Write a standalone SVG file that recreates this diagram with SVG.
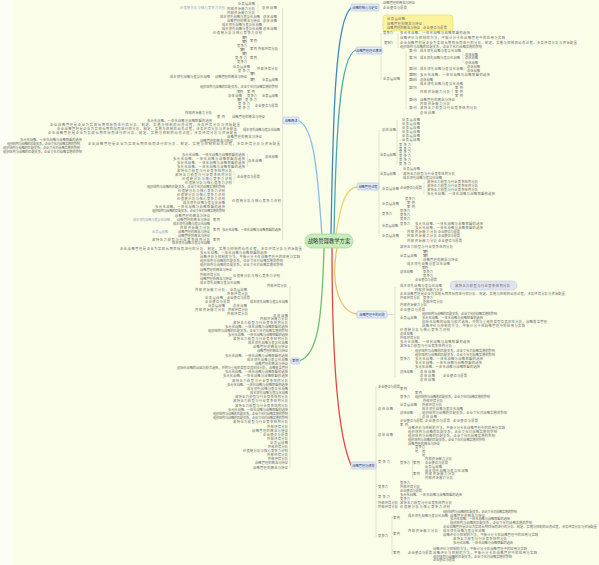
<svg xmlns="http://www.w3.org/2000/svg" width="599" height="565" viewBox="0 0 599 565">
<style>
.t{font-family:"Noto Sans CJK SC","Noto Sans",sans-serif;font-size:3.2px;fill:#6a6a6a}
.tb{fill:#96a6c4}
.br{fill:none;stroke:#c8cbb8;stroke-width:0.5}
.cv{fill:none;stroke-width:1.3;stroke-linecap:round}
.bn rect{fill:#e4ecfb;stroke:#9db2da;stroke-width:0.5}
.bn text{font-family:"Noto Sans CJK SC","Noto Sans",sans-serif;font-size:3.2px;fill:#2e3a5c;text-anchor:middle}
</style>
<rect width="599" height="565" fill="#fafde8"/>
<rect width="14" height="565" fill="#fcfdf3"/>
<g id="connectors">
<path class="cv" stroke="#3d86c6" d="M331,234 C333,120 335,20 351,8"/>
<path class="cv" stroke="#4aa8b0" d="M334,234 C336,130 340,55 356,50"/>
<path class="cv" stroke="#86bde4" d="M322,236 C318,180 315,128 299,121"/>
<path class="cv" stroke="#e8d86a" d="M336,234 C341,205 345,188 357,187"/>
<path class="cv" stroke="#e8c46a" d="M337,248 C330,285 340,312 357,314"/>
<path class="cv" stroke="#e04848" d="M332,248 C332,380 340,440 351,465"/>
<path class="cv" stroke="#6cc070" d="M324,248 C322,320 318,355 299,361"/>
<path class="br" d="M282.5,8V240M290,286V468M290,361H291M381,33V80M406,51V109M379,130V236M395,287V377M387,314.5H395M376,386V537M258,4V13M247.5,154V167M234,171V183M463,54V63M464,67V71M452.5,88V96M424,182V194M397,120V165M392,516V555M412.5,459V478M398,33.5V48M420,412V421"/>
</g>
<g id="center">
<rect x="305" y="234" width="48" height="14" rx="7" fill="#c6edbb" stroke="#96d38a" stroke-width="0.6"/>
<text x="329" y="243.2" text-anchor="middle" font-family="Noto Sans CJK SC, Noto Sans, sans-serif" font-size="5.3" fill="#333">战略管理教学方案</text>
</g>
<g id="n1" class="bn"><rect x="351" y="4" width="28" height="7" rx="1.5"/><text x="365" y="8.7">战略的核心与定位</text></g>
<g id="n2" class="bn"><rect x="356" y="47" width="26" height="7" rx="1.5"/><text x="369" y="51.7">战略管理理论演进</text></g>
<g id="n3" class="bn"><rect x="357" y="183" width="22" height="7" rx="1.5"/><text x="368" y="187.7">战略管理过程</text></g>
<g id="n4" class="bn"><rect x="357" y="311" width="30" height="7" rx="1.5"/><text x="372" y="315.7">战略管理中的问题</text></g>
<g id="n5" class="bn"><rect x="351" y="462" width="25" height="7" rx="1.5"/><text x="363.5" y="466.7">战略管理与绩效</text></g>
<g id="n6" class="bn"><rect x="283" y="117" width="16" height="7" rx="1.5"/><text x="291" y="121.7">战略概述</text></g>
<g id="n7" class="bn"><rect x="291" y="358" width="9" height="6" rx="1.5"/><text x="295.5" y="362.2">案例</text></g>
<g id="note-yellow">
<rect x="383" y="15" width="70" height="16" rx="3" fill="#fbf39c" stroke="#e6cf5a" stroke-width="0.5"/>
<g class="t"><text x="387" y="20.1" textLength="18">业务层战略</text><text x="387" y="24.6" textLength="35">战略管理的概念与特征</text><text x="387" y="28.6" textLength="33">战略管理的概念与特征</text><text x="423" y="28.6" textLength="24">企业使命与愿景</text></g>
</g>
<g id="note-grey">
<rect x="450" y="281" width="67" height="9" rx="4.5" fill="#dfe4ee" stroke="#b9c3d6" stroke-width="0.5"/>
<text class="t" x="455" y="286.6" textLength="55">波特五力模型与行业竞争结构分析</text>
</g>
<g id="topics-n6" class="t">
<text x="238" y="5.1" textLength="17">业务层战略</text>
<text class="tb" x="180" y="9.1" textLength="45">价值链分析与核心竞争力识别</text>
<text x="227" y="9.6" textLength="28">内部资源能力分析</text>
<text x="227" y="13.6" textLength="28">内部资源能力分析</text>
<text x="262" y="9.1" textLength="15">总体战略</text>
<text x="220" y="18.1" textLength="40">成本领先战略与差异化战略</text>
<text x="263" y="18.1" textLength="14">总体战略</text>
<text x="227" y="22.1" textLength="33">战略管理的概念与特征</text>
<text x="263" y="22.1" textLength="14">总体战略</text>
<text x="222" y="26.1" textLength="40">成本领先战略与差异化战略</text>
<text x="222" y="30.1" textLength="40">成本领先战略与差异化战略</text>
<text x="263" y="30.1" textLength="14">总体战略</text>
<text x="213" y="34.1" textLength="49">价值链分析与核心竞争力识别</text>
<text x="242" y="39.1" textLength="5">案例</text>
<text x="250" y="42.1" textLength="7">案例</text>
<text x="242" y="43.1" textLength="5">案例</text>
<text x="237" y="47.1" textLength="10">竞争力</text>
<text x="250" y="50.1" textLength="7">案例</text>
<text x="258" y="50.1" textLength="20">外部环境分析</text>
<text x="240" y="51.1" textLength="5">案例</text>
<text x="242" y="55.1" textLength="5">案例</text>
<text x="235" y="59.1" textLength="12">竞争力</text>
<text x="250" y="59.1" textLength="7">案例</text>
<text x="237" y="63.1" textLength="10">竞争力</text>
<text x="233" y="68.1" textLength="17">业务层战略</text>
<text x="238" y="72.1" textLength="12">竞争力</text>
<text x="257" y="70.1" textLength="21">外部环境分析</text>
<text x="170" y="78.1" textLength="40">成本领先战略与差异化战略</text>
<text x="215" y="78.1" textLength="32">战略管理的概念与特征</text>
<text x="250" y="75.1" textLength="5">案例</text>
<text x="250" y="81.1" textLength="5">案例</text>
<text x="262" y="81.1" textLength="16">业务层战略</text>
<text x="200" y="88.1" textLength="78">组织结构与战略的匹配关系，企业文化对战略实施的影响</text>
<text x="237" y="93.1" textLength="6">案例</text>
<text x="247" y="93.1" textLength="8">案例</text>
<text x="228" y="97.1" textLength="14">总体战略</text>
<text x="247" y="97.1" textLength="10">竞争力</text>
<text x="237" y="101.1" textLength="5">案例</text>
<text x="245" y="101.1" textLength="12">竞争力</text>
<text x="262" y="97.1" textLength="16">业务层战略</text>
<text x="238" y="105.1" textLength="12">竞争力</text>
<text x="238" y="109.1" textLength="12">竞争力</text>
<text x="255" y="107.1" textLength="23">企业使命与愿景</text>
<text x="185" y="114.1" textLength="27">内部资源能力分析</text>
<text x="217" y="118.1" textLength="8">案例</text>
<text x="232" y="118.1" textLength="33">战略管理的概念与特征</text>
<text x="147" y="122.1" textLength="65">多元化战略、一体化战略与战略联盟的选择</text>
<text x="50" y="126.1" textLength="190">企业战略管理是企业为实现长期目标而进行的分析、制定、实施与控制的动态过程，涉及环境分析与资源配置</text>
<text x="57" y="130.1" textLength="180">企业战略管理是企业为实现长期目标而进行的分析、制定、实施与控制的动态过程，涉及环境分析与资源配置</text>
<text x="243" y="131.1" textLength="37">成本领先战略与差异化战略</text>
<text x="48" y="134.1" textLength="189">企业战略管理是企业为实现长期目标而进行的分析、制定、实施与控制的动态过程，涉及环境分析与资源配置</text>
<text x="227" y="138.1" textLength="35">战略管理的概念与特征</text>
<text x="20" y="140.6" textLength="62">多元化战略、一体化战略与战略联盟的选择</text>
<text x="200" y="141.6" textLength="33">战略管理的概念与特征</text>
<text x="7" y="144.6" textLength="73">组织结构与战略的匹配关系，企业文化对战略实施的影响</text>
<text x="88" y="145.4" textLength="192">企业战略管理是企业为实现长期目标而进行的分析、制定、实施与控制的动态过程，涉及环境分析与资源配置</text>
<text x="3" y="148.6" textLength="77">组织结构与战略的匹配关系，企业文化对战略实施的影响</text>
<text x="3" y="152.6" textLength="79">组织结构与战略的匹配关系，企业文化对战略实施的影响</text>
<text x="182" y="156.1" textLength="63">多元化战略、一体化战略与战略联盟的选择</text>
<text x="173" y="160.1" textLength="72">多元化战略、一体化战略与战略联盟的选择</text>
<text x="177" y="164.1" textLength="68">多元化战略、一体化战略与战略联盟的选择</text>
<text x="177" y="168.1" textLength="68">多元化战略、一体化战略与战略联盟的选择</text>
<text x="248" y="162.1" textLength="14">总体战略</text>
<text x="265" y="158.1" textLength="13">总体战略</text>
<text x="177" y="172.1" textLength="55">波特五力模型与行业竞争结构分析</text>
<text x="175" y="176.1" textLength="57">波特五力模型与行业竞争结构分析</text>
<text x="182" y="180.1" textLength="50">价值链分析与核心竞争力识别</text>
<text x="185" y="184.1" textLength="47">价值链分析与核心竞争力识别</text>
<text x="237" y="178.1" textLength="23">企业使命与愿景</text>
<text x="147" y="188.1" textLength="78">组织结构与战略的匹配关系，企业文化对战略实施的影响</text>
<text x="178" y="192.1" textLength="47">价值链分析与核心竞争力识别</text>
<text x="177" y="196.1" textLength="48">价值链分析与核心竞争力识别</text>
<text x="177" y="200.1" textLength="48">价值链分析与核心竞争力识别</text>
<text x="183" y="204.1" textLength="42">成本领先战略与差异化战略</text>
<text x="155" y="208.1" textLength="70">多元化战略、一体化战略与战略联盟的选择</text>
<text x="152" y="212.1" textLength="73">组织结构与战略的匹配关系，企业文化对战略实施的影响</text>
<text x="232" y="202.1" textLength="49">价值链分析与核心竞争力识别</text>
<text x="175" y="217.1" textLength="35">战略管理的概念与特征</text>
<text x="177" y="221.1" textLength="33">战略管理的概念与特征</text>
<text class="tb" x="133" y="221.1" textLength="37">成本领先战略与差异化战略</text>
<text x="173" y="225.1" textLength="37">成本领先战略与差异化战略</text>
<text x="180" y="229.1" textLength="30">内部资源能力分析</text>
<text x="178" y="232.9" textLength="32">战略管理的概念与特征</text>
<text class="tb" x="152" y="232.9" textLength="16">业务层战略</text>
<text x="178" y="236.7" textLength="32">战略管理的概念与特征</text>
<text x="152" y="240.5" textLength="58">波特五力模型与行业竞争结构分析</text>
<text x="172" y="244.3" textLength="38">成本领先战略与差异化战略</text>
<text x="213" y="221.1" textLength="7">案例</text>
<text x="213" y="231.1" textLength="7">案例</text>
<text x="213" y="241.1" textLength="7">案例</text>
<text x="222" y="231.1" textLength="59">多元化战略、一体化战略与战略联盟的选择</text>
<text x="120" y="250.1" textLength="182">企业战略管理是企业为实现长期目标而进行的分析、制定、实施与控制的动态过程，涉及环境分析与资源配置</text>
<text x="200" y="254.1" textLength="67">多元化战略、一体化战略与战略联盟的选择</text>
<text x="200" y="258.1" textLength="100">战略评价与控制的方法，平衡计分卡在战略管理中的应用与实践</text>
<text x="200" y="262.1" textLength="83">组织结构与战略的匹配关系，企业文化对战略实施的影响</text>
<text x="200" y="266.1" textLength="83">组织结构与战略的匹配关系，企业文化对战略实施的影响</text>
<text x="200" y="271.1" textLength="32">战略管理的概念与特征</text>
<text x="200" y="275.6" textLength="20">外部环境分析</text>
<text x="233" y="276.6" textLength="47">价值链分析与核心竞争力识别</text>
<text x="200" y="280.1" textLength="32">战略管理的概念与特征</text>
<text x="200" y="284.1" textLength="40">成本领先战略与差异化战略</text>
</g>
<g id="topics-n7" class="t">
<text x="267" y="287.1" textLength="20">外部环境分析</text>
<text x="195" y="291.1" textLength="30">内部资源能力分析</text>
<text x="230" y="291.1" textLength="17">业务层战略</text>
<text x="227" y="295.1" textLength="21">外部环境分析</text>
<text x="205" y="299.1" textLength="18">业务层战略</text>
<text x="227" y="299.1" textLength="23">企业使命与愿景</text>
<text x="205" y="303.1" textLength="25">企业使命与愿景</text>
<text x="250" y="303.1" textLength="38">成本领先战略与差异化战略</text>
<text x="208" y="307.1" textLength="17">业务层战略</text>
<text x="233" y="307.1" textLength="14">总体战略</text>
<text x="195" y="310.9" textLength="30">内部资源能力分析</text>
<text x="228" y="310.9" textLength="20">外部环境分析</text>
<text x="227" y="314.7" textLength="21">外部环境分析</text>
<text x="273" y="316.6" textLength="15">总体战略</text>
<text x="260" y="320.4" textLength="28">内部资源能力分析</text>
<text x="233" y="324.2" textLength="55">波特五力模型与行业竞争结构分析</text>
<text x="225" y="328.1" textLength="63">多元化战略、一体化战略与战略联盟的选择</text>
<text x="208" y="332.1" textLength="80">组织结构与战略的匹配关系，企业文化对战略实施的影响</text>
<text x="228" y="336.1" textLength="60">多元化战略、一体化战略与战略联盟的选择</text>
<text x="233" y="340.1" textLength="55">波特五力模型与行业竞争结构分析</text>
<text x="248" y="344.1" textLength="40">成本领先战略与差异化战略</text>
<text x="253" y="348.1" textLength="35">战略管理的概念与特征</text>
<text x="257" y="352.1" textLength="31">战略管理的概念与特征</text>
<text x="225" y="357.1" textLength="63">多元化战略、一体化战略与战略联盟的选择</text>
<text x="247" y="361.1" textLength="41">成本领先战略与差异化战略</text>
<text x="255" y="365.1" textLength="33">战略管理的概念与特征</text>
<text x="177" y="369.1" textLength="111">国际化战略的动因与模式选择，并购与重组的类型及其风险分析，战略变革管理</text>
<text x="225" y="373.1" textLength="63">多元化战略、一体化战略与战略联盟的选择</text>
<text x="223" y="377.1" textLength="65">多元化战略、一体化战略与战略联盟的选择</text>
<text x="232" y="382.1" textLength="56">波特五力模型与行业竞争结构分析</text>
<text x="227" y="386.1" textLength="61">多元化战略、一体化战略与战略联盟的选择</text>
<text x="247" y="390.1" textLength="41">成本领先战略与差异化战略</text>
<text x="250" y="394.1" textLength="38">成本领先战略与差异化战略</text>
<text x="235" y="398.1" textLength="53">波特五力模型与行业竞争结构分析</text>
<text x="233" y="402.1" textLength="55">波特五力模型与行业竞争结构分析</text>
<text x="235" y="407.1" textLength="53">波特五力模型与行业竞争结构分析</text>
<text x="228" y="411.1" textLength="60">多元化战略、一体化战略与战略联盟的选择</text>
<text x="213" y="415.1" textLength="75">组织结构与战略的匹配关系，企业文化对战略实施的影响</text>
<text x="213" y="419.1" textLength="75">组织结构与战略的匹配关系，企业文化对战略实施的影响</text>
<text x="233" y="423.1" textLength="55">波特五力模型与行业竞争结构分析</text>
<text x="267" y="428.1" textLength="21">外部环境分析</text>
<text x="252" y="432.1" textLength="36">战略管理的概念与特征</text>
<text x="263" y="436.1" textLength="25">企业使命与愿景</text>
<text x="267" y="440.1" textLength="21">外部环境分析</text>
<text x="270" y="444.1" textLength="18">业务层战略</text>
<text x="268" y="448.1" textLength="20">外部环境分析</text>
<text x="243" y="452.1" textLength="45">价值链分析与核心竞争力识别</text>
<text x="267" y="456.1" textLength="21">外部环境分析</text>
<text x="268" y="460.1" textLength="20">外部环境分析</text>
<text x="255" y="464.1" textLength="33">战略管理的概念与特征</text>
<text x="253" y="469.1" textLength="35">战略管理的概念与特征</text>
</g>
<g id="topics-n1" class="t">
<text x="383" y="4.3" textLength="32">战略管理的概念与特征</text>
<text x="383" y="8.6" textLength="24">企业使命与愿景</text>
</g>
<g id="topics-n2" class="t">
<text x="383" y="34.1" textLength="10">竞争力</text>
<text x="384" y="44.1" textLength="9">竞争力</text>
<text x="383" y="80.1" textLength="17">业务层战略</text>
<text x="400" y="34.1" textLength="70">多元化战略、一体化战略与战略联盟的选择</text>
<text x="400" y="39.1" textLength="105">战略评价与控制的方法，平衡计分卡在战略管理中的应用与实践</text>
<text x="400" y="44.1" textLength="177">企业战略管理是企业为实现长期目标而进行的分析、制定、实施与控制的动态过程，涉及环境分析与资源配置</text>
<text x="400" y="48.1" textLength="82">组织结构与战略的匹配关系，企业文化对战略实施的影响</text>
<text x="409" y="52.1" textLength="8">第一节</text>
<text x="420" y="52.1" textLength="41">成本领先战略与差异化战略</text>
<text x="409" y="59.1" textLength="8">第二节</text>
<text x="420" y="59.1" textLength="40">成本领先战略与差异化战略</text>
<text x="465" y="55.6" textLength="13">总体战略</text>
<text x="465" y="59.4" textLength="13">总体战略</text>
<text x="465" y="63.6" textLength="13">总体战略</text>
<text x="409" y="70.1" textLength="8">第三节</text>
<text x="420" y="70.1" textLength="43">成本领先战略与差异化战略</text>
<text x="467" y="68.1" textLength="13">总体战略</text>
<text x="467" y="72.1" textLength="13">总体战略</text>
<text x="409" y="76.1" textLength="8">第四节</text>
<text x="420" y="76.1" textLength="70">多元化战略、一体化战略与战略联盟的选择</text>
<text x="409" y="81.1" textLength="8">第五节</text>
<text x="420" y="81.1" textLength="13">总体战略</text>
<text x="420" y="85.1" textLength="43">成本领先战略与差异化战略</text>
<text x="409" y="89.1" textLength="8">第六节</text>
<text x="420" y="93.1" textLength="30">内部资源能力分析</text>
<text x="455" y="89.1" textLength="8">案例</text>
<text x="455" y="93.1" textLength="8">案例</text>
<text x="455" y="97.1" textLength="8">案例</text>
<text x="409" y="101.1" textLength="8">第七节</text>
<text x="420" y="101.1" textLength="35">战略管理的概念与特征</text>
<text x="420" y="105.1" textLength="30">内部资源能力分析</text>
<text x="409" y="109.1" textLength="8">第八节</text>
<text x="420" y="109.1" textLength="57">波特五力模型与行业竞争结构分析</text>
<text x="420" y="114.1" textLength="15">总体战略</text>
</g>
<g id="topics-n3" class="t">
<text x="382" y="131.1" textLength="14">总体战略</text>
<text x="402" y="121.1" textLength="18">业务层战略</text>
<text x="402" y="125.1" textLength="18">业务层战略</text>
<text x="402" y="129.1" textLength="18">业务层战略</text>
<text x="402" y="133.1" textLength="18">业务层战略</text>
<text x="402" y="137.1" textLength="18">业务层战略</text>
<text x="402" y="141.1" textLength="18">业务层战略</text>
<text x="380" y="156.1" textLength="16">业务层战略</text>
<text x="399" y="145.6" textLength="12">竞争力</text>
<text x="399" y="149.5" textLength="12">竞争力</text>
<text x="399" y="153.4" textLength="12">竞争力</text>
<text x="399" y="157.3" textLength="12">竞争力</text>
<text x="399" y="161.2" textLength="12">竞争力</text>
<text x="399" y="165.1" textLength="12">竞争力</text>
<text x="380" y="175.1" textLength="16">业务层战略</text>
<text x="403" y="170.1" textLength="17">业务层战略</text>
<text x="403" y="175.1" textLength="52">波特五力模型与行业竞争结构分析</text>
<text x="403" y="179.1" textLength="39">成本领先战略与差异化战略</text>
<text x="382" y="190.1" textLength="17">业务层战略</text>
<text x="400" y="189.1" textLength="22">企业使命与愿景</text>
<text x="427" y="183.1" textLength="51">波特五力模型与行业竞争结构分析</text>
<text x="427" y="187.1" textLength="51">波特五力模型与行业竞争结构分析</text>
<text x="427" y="191.1" textLength="51">波特五力模型与行业竞争结构分析</text>
<text x="427" y="195.1" textLength="68">多元化战略、一体化战略与战略联盟的选择</text>
<text x="382" y="205.1" textLength="17">业务层战略</text>
<text x="405" y="200.1" textLength="10">竞争力</text>
<text x="407" y="204.1" textLength="8">案例</text>
<text x="407" y="208.1" textLength="8">案例</text>
<text x="382" y="215.1" textLength="10">竞争力</text>
<text x="400" y="212.1" textLength="10">竞争力</text>
<text x="400" y="216.1" textLength="10">竞争力</text>
<text x="400" y="220.1" textLength="10">竞争力</text>
<text x="382" y="226.6" textLength="16">业务层战略</text>
<text x="400" y="225.1" textLength="10">竞争力</text>
<text x="415" y="225.1" textLength="68">多元化战略、一体化战略与战略联盟的选择</text>
<text x="415" y="229.1" textLength="68">多元化战略、一体化战略与战略联盟的选择</text>
<text x="382" y="236.6" textLength="17">业务层战略</text>
<text x="407" y="233.1" textLength="30">内部资源能力分析</text>
<text x="438" y="233.1" textLength="22">企业使命与愿景</text>
<text x="407" y="237.1" textLength="30">内部资源能力分析</text>
<text x="438" y="237.1" textLength="22">企业使命与愿景</text>
<text x="407" y="242.1" textLength="30">内部资源能力分析</text>
<text x="438" y="242.1" textLength="24">企业使命与愿景</text>
<text x="400" y="248.1" textLength="53">波特五力模型与行业竞争结构分析</text>
<text x="423" y="252.6" textLength="5">案例</text>
<text x="400" y="256.6" textLength="17">业务层战略</text>
<text x="423" y="256.6" textLength="5">案例</text>
<text x="423" y="261.1" textLength="35">战略管理的概念与特征</text>
<text x="407" y="265.1" textLength="43">成本领先战略与差异化战略</text>
<text x="422" y="269.1" textLength="6">案例</text>
<text x="400" y="273.1" textLength="13">总体战略</text>
<text x="423" y="273.1" textLength="10">竞争力</text>
<text x="423" y="277.1" textLength="10">竞争力</text>
<text x="415" y="281.1" textLength="22">企业使命与愿景</text>
</g>
<g id="topics-n4" class="t">
<text x="400" y="287.1" textLength="42">成本领先战略与差异化战略</text>
<text x="415" y="291.1" textLength="28">内部资源能力分析</text>
<text x="400" y="295.1" textLength="165">企业战略管理是企业为实现长期目标而进行的分析、制定、实施与控制的动态过程，涉及环境分析与资源配置</text>
<text x="400" y="299.1" textLength="20">外部环境分析</text>
<text x="423" y="299.1" textLength="10">竞争力</text>
<text x="423" y="302.9" textLength="20">外部环境分析</text>
<text x="400" y="306.4" textLength="27">内部资源能力分析</text>
<text x="400" y="310.6" textLength="25">企业使命与愿景</text>
<text x="422" y="314.6" textLength="75">组织结构与战略的匹配关系，企业文化对战略实施的影响</text>
<text x="400" y="318.6" textLength="17">业务层战略</text>
<text x="422" y="318.6" textLength="61">多元化战略、一体化战略与战略联盟的选择</text>
<text x="422" y="322.6" textLength="125">国际化战略的动因与模式选择，并购与重组的类型及其风险分析，战略变革管理</text>
<text x="422" y="326.6" textLength="103">战略评价与控制的方法，平衡计分卡在战略管理中的应用与实践</text>
<text x="400" y="331.1" textLength="50">价值链分析与核心竞争力识别</text>
<text x="400" y="335.1" textLength="13">总体战略</text>
<text x="400" y="339.1" textLength="20">外部环境分析</text>
<text x="400" y="343.1" textLength="70">多元化战略、一体化战略与战略联盟的选择</text>
<text x="400" y="347.1" textLength="52">波特五力模型与行业竞争结构分析</text>
<text x="415" y="352.1" textLength="80">组织结构与战略的匹配关系，企业文化对战略实施的影响</text>
<text x="415" y="356.1" textLength="80">组织结构与战略的匹配关系，企业文化对战略实施的影响</text>
<text x="400" y="360.1" textLength="10">竞争力</text>
<text x="415" y="360.1" textLength="68">多元化战略、一体化战略与战略联盟的选择</text>
<text x="415" y="364.1" textLength="67">多元化战略、一体化战略与战略联盟的选择</text>
<text x="415" y="368.1" textLength="65">多元化战略、一体化战略与战略联盟的选择</text>
<text x="400" y="373.1" textLength="13">总体战略</text>
<text x="420" y="373.1" textLength="15">总体战略</text>
<text x="420" y="377.1" textLength="15">总体战略</text>
<text x="443" y="377.1" textLength="24">企业使命与愿景</text>
<text x="420" y="381.1" textLength="15">总体战略</text>
</g>
<g id="topics-n5" class="t">
<text x="378" y="388.1" textLength="22">企业使命与愿景</text>
<text x="378" y="410.1" textLength="15">总体战略</text>
<text x="378" y="436.1" textLength="15">总体战略</text>
<text x="378" y="463.1" textLength="12">竞争力</text>
<text x="378" y="488.1" textLength="10">竞争力</text>
<text x="378" y="498.1" textLength="12">竞争力</text>
<text x="378" y="504.1" textLength="20">外部环境分析</text>
<text x="378" y="508.1" textLength="20">外部环境分析</text>
<text x="378" y="537.1" textLength="10">竞争力</text>
<text x="400" y="390.1" textLength="7">案例</text>
<text x="415" y="394.1" textLength="7">案例</text>
<text x="400" y="398.1" textLength="10">竞争力</text>
<text x="415" y="398.1" textLength="75">组织结构与战略的匹配关系，企业文化对战略实施的影响</text>
<text x="423" y="402.1" textLength="20">外部环境分析</text>
<text x="400" y="406.1" textLength="17">业务层战略</text>
<text x="422" y="406.1" textLength="20">外部环境分析</text>
<text x="422" y="410.1" textLength="41">成本领先战略与差异化战略</text>
<text x="400" y="414.1" textLength="13">总体战略</text>
<text x="422" y="414.1" textLength="85">组织结构与战略的匹配关系，企业文化对战略实施的影响</text>
<text x="422" y="417.9" textLength="15">总体战略</text>
<text x="400" y="421.7" textLength="23">企业使命与愿景</text>
<text x="425" y="421.7" textLength="25">企业使命与愿景</text>
<text x="453" y="421.7" textLength="25">企业使命与愿景</text>
<text x="400" y="425.5" textLength="8">案例</text>
<text x="408" y="429.3" textLength="97">战略评价与控制的方法，平衡计分卡在战略管理中的应用与实践</text>
<text x="408" y="433.1" textLength="89">组织结构与战略的匹配关系，企业文化对战略实施的影响</text>
<text x="408" y="436.9" textLength="87">组织结构与战略的匹配关系，企业文化对战略实施的影响</text>
<text x="408" y="440.7" textLength="77">组织结构与战略的匹配关系，企业文化对战略实施的影响</text>
<text x="408" y="444.5" textLength="32">战略管理的概念与特征</text>
<text x="415" y="448.3" textLength="10">竞争力</text>
<text x="415" y="452.1" textLength="3">是</text>
<text x="422" y="452.1" textLength="3">是</text>
<text x="422" y="455.9" textLength="3">是</text>
<text x="425" y="460.1" textLength="27">内部资源能力分析</text>
<text x="400" y="463.9" textLength="10">竞争力</text>
<text x="413" y="463.9" textLength="7">案例</text>
<text x="425" y="463.9" textLength="23">企业使命与愿景</text>
<text x="425" y="467.7" textLength="17">业务层战略</text>
<text x="425" y="471.5" textLength="43">成本领先战略与差异化战略</text>
<text x="413" y="475.3" textLength="7">案例</text>
<text x="425" y="475.3" textLength="30">内部资源能力分析</text>
<text x="425" y="479.1" textLength="28">内部资源能力分析</text>
<text x="400" y="484.1" textLength="10">竞争力</text>
<text x="400" y="488.1" textLength="20">外部环境分析</text>
<text x="400" y="491.9" textLength="22">企业使命与愿景</text>
<text x="400" y="496.1" textLength="62">多元化战略、一体化战略与战略联盟的选择</text>
<text x="400" y="500.1" textLength="10">竞争力</text>
<text x="400" y="504.1" textLength="52">波特五力模型与行业竞争结构分析</text>
<text x="400" y="507.9" textLength="50">价值链分析与核心竞争力识别</text>
<text x="393" y="519.1" textLength="7">案例</text>
<text x="393" y="535.1" textLength="7">案例</text>
<text x="393" y="553.6" textLength="7">案例</text>
<text x="443" y="512.8" textLength="74">组织结构与战略的匹配关系，企业文化对战略实施的影响</text>
<text x="408" y="516.6" textLength="40">成本领先战略与差异化战略</text>
<text x="450" y="516.6" textLength="35">战略管理的概念与特征</text>
<text x="450" y="520.4" textLength="60">多元化战略、一体化战略与战略联盟的选择</text>
<text x="450" y="524.2" textLength="82">组织结构与战略的匹配关系，企业文化对战略实施的影响</text>
<text x="443" y="528.1" textLength="154">企业战略管理是企业为实现长期目标而进行的分析、制定、实施与控制的动态过程，涉及环境分析与资源配置</text>
<text x="408" y="532.1" textLength="30">内部资源能力分析</text>
<text x="443" y="532.1" textLength="42">成本领先战略与差异化战略</text>
<text x="443" y="536.1" textLength="95">战略评价与控制的方法，平衡计分卡在战略管理中的应用与实践</text>
<text x="453" y="540.1" textLength="54">波特五力模型与行业竞争结构分析</text>
<text x="453" y="544.1" textLength="60">多元化战略、一体化战略与战略联盟的选择</text>
<text x="433" y="549.6" textLength="94">战略评价与控制的方法，平衡计分卡在战略管理中的应用与实践</text>
<text x="408" y="553.6" textLength="24">企业使命与愿景</text>
<text x="433" y="553.6" textLength="104">战略评价与控制的方法，平衡计分卡在战略管理中的应用与实践</text>
<text x="433" y="557.5" textLength="79">组织结构与战略的匹配关系，企业文化对战略实施的影响</text>
<text x="433" y="561.4" textLength="22">企业使命与愿景</text>
</g>
</svg>
